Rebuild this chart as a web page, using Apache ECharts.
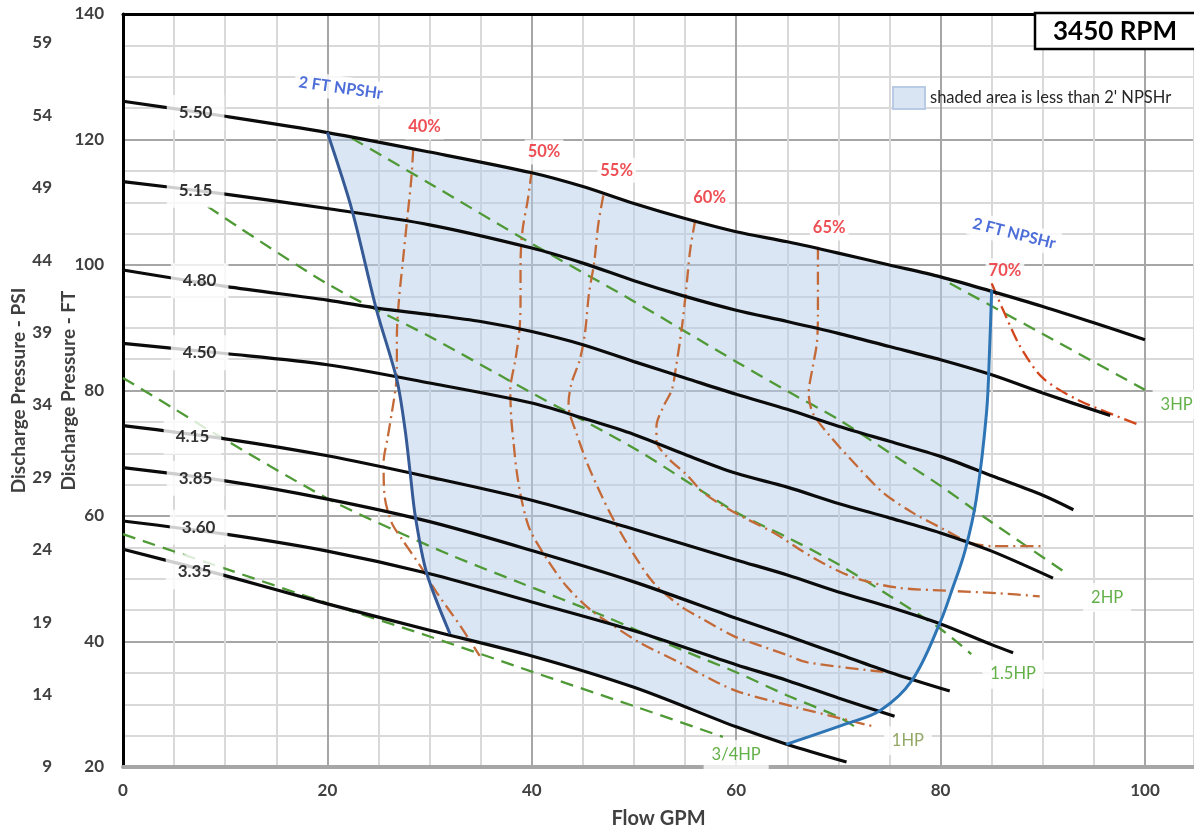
<!DOCTYPE html>
<html><head><meta charset="utf-8">
<script src="https://cdn.jsdelivr.net/npm/echarts@6/dist/echarts.min.js"></script>
<style>html,body{margin:0;padding:0;background:#fff}#c{width:1194px;height:833px}</style>
</head><body><div id="c"></div>
<script>
// ---- axes ----
const xTickLabels = [0, 20, 40, 60, 80, 100];
const ftTickLabels = [20, 40, 60, 80, 100, 120, 140];
const psiTickLabels = [9, 14, 19, 24, 29, 34, 39, 44, 49, 54, 59];

// ---- head curves (GPM, FT) by impeller diameter ----
const head550 = [[0,126.1],[10,123.7],[20,121.1],[30,118.0],[40,114.7],[45,112.5],[50,109.8],[55,107.4],[60,105.3],[65,103.7],[70,101.9],[75,100.0],[80,98.1],[85,95.8],[90,93.4],[95,90.8],[100,88.1]];
const head515 = [[0,113.3],[10,111.3],[20,109.0],[30,106.4],[40,102.7],[45,100.3],[50,97.5],[55,95.0],[60,92.8],[65,91.0],[70,89.1],[75,87.0],[80,84.9],[85,82.5],[90,79.6],[96.6,76.0]];
const head480 = [[0,99.2],[10,96.6],[20,94.4],[25,93.1],[30,92.1],[35,91.0],[40,89.4],[45,87.3],[50,84.6],[55,82.0],[60,79.4],[65,77.0],[70,74.3],[75,71.9],[80,69.5],[85,66.4],[90,63.3],[93,61.0]];
const head450 = [[0,87.5],[10,85.9],[20,84.1],[30,81.2],[40,78.0],[45,75.6],[50,73.0],[55,69.8],[60,66.8],[65,64.6],[70,62.0],[75,59.7],[80,57.3],[85,54.4],[91,50.1]];
const head415 = [[0,74.4],[10,72.3],[20,69.6],[30,66.2],[40,62.5],[50,57.9],[60,53.0],[65,50.6],[70,47.9],[75,45.5],[80,42.8],[85,39.5],[87.1,38.2]];
const head385 = [[0,67.7],[10,65.6],[20,62.7],[30,59.1],[40,54.5],[50,49.5],[60,43.7],[65,40.9],[70,38.0],[75,35.1],[80.9,32.1]];
const head360 = [[0,59.2],[10,57.1],[20,54.4],[30,50.8],[40,46.3],[50,41.7],[60,36.3],[65,33.8],[70,31.0],[75.5,28.1]];
const head335 = [[0,54.7],[10,50.5],[20,46.0],[30,41.8],[40,37.7],[50,32.7],[60,26.4],[65,23.6],[70.8,20.8]];
const headLabelNames = ['5.50','5.15','4.80','4.50','4.15','3.85','3.60','3.35'];
const headLabelGpm = [7.1, 7.1, 7.5, 7.5, 6.8, 7.1, 7.4, 7.0];
const headLabelFt = [124.3, 111.9, 97.5, 86.0, 72.6, 66.0, 58.2, 51.1];

// ---- horsepower lines ----
const hp34 = [[0,57.1],[10,51.6],[20,46.1],[30,40.8],[40,35.2],[50,29.7],[58.7,24.8]];
const hp1 = [[0,82.0],[4.9,77.2],[8.8,73.3],[20,62.8],[27.4,57.1],[32.3,53.6],[38.8,49.4],[47,44.1],[55.2,38.3],[60,35.1],[65,31.4],[70,28.0],[71.9,26.1]];
const hp15 = [[8.3,109.3],[20,97.0],[30,88.6],[40,79.6],[50,70.8],[60,60.6],[65,56.6],[70,52.3],[75,47.3],[80,42.0],[83,38.0]];
const hp2 = [[22.4,120.2],[30,113.0],[40,103.4],[50,94.2],[60,84.6],[65,79.9],[70,75.4],[75,70.1],[80,64.8],[85,59.0],[92.3,50.9]];
const hp3 = [[80.9,97.1],[90,89.0],[100,80.1]];
const hpLabelNames = ['3/4HP','1HP','1.5HP','2HP','3HP'];
const hpLabelGpm = [60.0, 76.8, 87.1, 96.3, 103.1];
const hpLabelFt = [22.0, 24.2, 34.8, 47.0, 77.8];

// ---- efficiency curves ----
const eff40 = [[28.4,118.4],[28.2,113.5],[27.8,107.2],[27.4,100.8],[27.0,94.4],[26.8,88.6],[26.8,83.3],[26.7,80.7],[26.3,76.4],[25.9,72.5],[25.5,68.5],[25.6,63.2],[26.3,58.9],[27.3,56.3],[29.1,52.0],[30.7,47.8],[33.0,42.5],[34.9,37.7]];
const eff50 = [[40.0,115.0],[39.6,110.3],[39.1,105.6],[38.9,100.3],[38.9,94.4],[38.8,89.7],[38.4,84.9],[37.9,80.1],[38.0,75.4],[38.2,72.0],[38.5,67.4],[39.0,62.6],[39.8,57.9],[41.5,53.1],[43.4,48.8],[45.7,45.1],[48.0,42.5],[50.6,39.8],[54.5,36.6],[58.1,33.5],[60.4,31.9],[65.9,29.5],[73.6,26.4]];
const eff55 = [[47.0,111.1],[46.5,106.4],[46.1,100.3],[45.6,95.5],[45.2,89.1],[44.7,84.9],[43.9,81.2],[43.6,78.0],[43.7,76.4],[44.3,73.5],[45.4,68.5],[46.7,63.7],[48.0,59.4],[49.9,54.1],[51.9,49.4],[54.5,45.7],[56.8,43.5],[59.7,40.9],[61.7,39.7],[64.9,37.9],[66.9,36.7],[74.7,35.1]];
const eff60 = [[56.0,107.2],[55.5,102.4],[55.1,96.0],[54.7,90.2],[54.1,83.6],[53.7,80.1],[52.9,77.5],[52.2,74.3],[52.2,72.0],[53.3,69.3],[55.2,66.5],[56.8,63.7],[60.0,60.4],[63.6,57.4],[67.5,53.4],[71.5,50.2],[75.7,48.6],[80.6,48.1],[85.5,47.7],[89.7,47.2]];
const eff65 = [[68.0,102.9],[68.0,98.2],[68.0,92.3],[67.9,87.6],[67.5,83.8],[67.1,79.6],[67.5,76.4],[69.2,72.7],[71.8,68.0],[74.4,63.7],[77.3,60.5],[80.3,57.9],[82.8,55.8],[85.1,55.2],[90.0,55.2]];
const eff70 = [[85.0,97.1],[86.1,92.9],[87.8,87.0],[90.0,82.0],[93.3,78.6],[96.5,76.4],[99.6,74.4]];
const effLabelNames = ['40%','50%','55%','60%','65%','70%'];
const effLabelGpm = [29.5, 41.2, 48.3, 57.4, 69.1, 86.3];
const effLabelFt = [122.0, 118.0, 115.1, 110.8, 105.9, 99.1];

// ---- 2 ft NPSHr boundary ----
const npshLeft = [[20,121.1],[22.4,108.8],[24.8,92.9],[26.8,81.7],[27.6,73.8],[28.1,66.9],[28.6,60.0],[29.7,51.0],[32.0,41.2]];
const npshRight = [[64.9,23.6],[70.8,26.9],[74.1,29.0],[77.2,33.8],[79.9,42.8],[81.2,48.6],[82.4,54.5],[83.5,62.7],[84.5,76.5],[84.8,86.6],[85.0,96.0]];
const npshLabelNames = ['2 FT NPSHr','2 FT NPSHr'];
const npshLabelGpm = [21.3, 87.2];
const npshLabelFt = [128.2, 105.0];

const legendName = "shaded area is less than 2' NPSHr";
const FONT = 'Lato, "Open Sans", sans-serif';

// shaded region: left NPSHr edge, 3.35 curve, right NPSHr edge, 5.50 curve back
const shadePts = [].concat(
  npshLeft,
  head335.filter(p => p[0] > 32.0 && p[0] < 64.9),
  npshRight,
  head550.filter(p => p[0] > 20 && p[0] < 85).reverse()
);

const chart = echarts.init(document.getElementById('c'), null, {renderer: 'canvas'});

function lineSeries(data, color, width, type, z, smooth) {
  return {type: 'line', data: data, symbol: 'none', smooth: smooth, z: z, silent: true,
    lineStyle: {color: color, width: width, type: type}, xAxisIndex: 0, yAxisIndex: 0};
}
function labelSeries(names, xs, ys, labelCfg, itemFn) {
  return {type: 'scatter', z: 20, silent: true, symbolSize: 0, xAxisIndex: 0, yAxisIndex: 0,
    itemStyle: {color: 'rgba(0,0,0,0)'},
    data: names.map((n, i) => Object.assign({name: n, value: [xs[i], ys[i]]}, itemFn ? itemFn(i) : {})),
    label: Object.assign({show: true, position: 'inside', formatter: '{b}', fontFamily: FONT}, labelCfg)};
}

const series = [];
series.push({
  type: 'custom', name: legendName, coordinateSystem: 'cartesian2d', xAxisIndex: 0, yAxisIndex: 0,
  z: 1, silent: true, data: [[0, 0]],
  itemStyle: {color: '#dae5f3', borderColor: '#b9cbe4', borderWidth: 1},
  renderItem: function (params, api) {
    return {type: 'polygon', shape: {points: shadePts.map(p => api.coord(p))},
      style: {fill: 'rgba(181,205,231,0.5)'}};
  }
});
[head550, head515, head480, head450, head415, head385, head360, head335].forEach(d =>
  series.push(lineSeries(d, '#0b0b0b', 3.2, 'solid', 4, 0.3)));
[hp34, hp1, hp15, hp2, hp3].forEach(d =>
  series.push(lineSeries(d, '#4f9a36', 2.3, [13, 8], 3, 0.3)));
[eff40, eff50, eff55, eff60, eff65].forEach(d =>
  series.push(lineSeries(d, '#c46a38', 2.3, [13, 5, 2, 5], 3, 0.3)));
series.push(lineSeries(eff70, '#d2461c', 2.3, [13, 5, 2, 5], 3, 0.3));
series.push(lineSeries(npshLeft, '#365a96', 3, 'solid', 6, 0.3));
series.push(lineSeries(npshRight, '#2e75b6', 3, 'solid', 6, 0.35));

series.push(labelSeries(headLabelNames, headLabelGpm, headLabelFt,
  {color: '#000', fontSize: 17, fontWeight: 'bold', backgroundColor: '#fff', padding: [9, 12]}));
series.push(labelSeries(effLabelNames, effLabelGpm, effLabelFt,
  {color: '#e8232a', fontSize: 16.5, fontWeight: 'bold', backgroundColor: '#fff', padding: [4, 3]}));
series.push(labelSeries(hpLabelNames, hpLabelGpm, hpLabelFt,
  {color: '#3c9c1c', fontSize: 16.5, backgroundColor: '#fff', padding: [6, 8]},
  i => i === 1 ? {label: {color: '#77923e'}} : {}));
series.push(labelSeries(npshLabelNames, npshLabelGpm, npshLabelFt,
  {color: '#2148cf', fontSize: 16, fontWeight: 'bold', backgroundColor: '#fff', padding: [4, 4]},
  i => ({label: {rotate: i === 0 ? -8 : -14}})));

const tickText = {fontFamily: FONT, fontWeight: 'bold', fontSize: 17, color: '#404040'};
const nameText = {fontFamily: FONT, fontWeight: 'bold', fontSize: 19, color: '#404040'};

chart.setOption({
  animation: false,
  backgroundColor: '#fff',
  grid: {left: 123, right: 0, top: 14, bottom: 66, containLabel: false, outerBoundsMode: 'none'},
  legend: {
    show: true, left: 887, top: 81, icon: 'rect', itemWidth: 32, itemHeight: 22, itemGap: 6,
    data: [{name: legendName, icon: 'rect'}],
    textStyle: {fontFamily: FONT, fontSize: 16.5, color: '#262626'}, selectedMode: false
  },
  xAxis: [{
    type: 'value', min: 0, max: 104.8, interval: 5, position: 'bottom',
    axisLine: {show: true, onZero: false, lineStyle: {color: '#a6a6a6', width: 4}},
    axisTick: {show: false},
    axisLabel: Object.assign({customValues: xTickLabels, margin: 15}, tickText),
    splitLine: {show: true, lineStyle: {color: ['#a6a6a6', '#d9d9d9', '#d9d9d9', '#d9d9d9'], width: 2}},
    name: 'Flow GPM', nameLocation: 'middle', nameGap: 42, nameMoveOverlap: false,
    nameTextStyle: Object.assign({}, nameText, {fontSize: 20})
  }, {
    type: 'value', min: 0, max: 104.8, position: 'top',
    axisLine: {show: true, onZero: false, lineStyle: {color: '#000', width: 3}},
    axisTick: {show: false}, axisLabel: {show: false}, splitLine: {show: false}
  }],
  yAxis: [{
    type: 'value', min: 20, max: 140, interval: 5, position: 'left',
    axisLine: {show: true, onZero: false, lineStyle: {color: '#000', width: 3}},
    axisTick: {show: false},
    axisLabel: Object.assign({customValues: ftTickLabels, margin: 19}, tickText),
    splitLine: {show: true, lineStyle: {color: ['#a6a6a6', '#d9d9d9', '#d9d9d9', '#d9d9d9'], width: 2}},
    name: 'Discharge Pressure - FT', nameLocation: 'middle', nameGap: 45, nameMoveOverlap: false,
    nameTextStyle: nameText
  }, {
    type: 'value', min: 9, max: 61, position: 'left', offset: 55,
    axisLine: {show: false}, axisTick: {show: false}, splitLine: {show: false},
    axisLabel: Object.assign({customValues: psiTickLabels, margin: 16}, tickText),
    name: 'Discharge Pressure - PSI', nameLocation: 'middle', nameGap: 40, nameMoveOverlap: false,
    nameTextStyle: nameText
  }],
  graphic: [
    {type: 'rect', z: 100, zlevel: 1, shape: {x: 1035, y: 13, width: 170, height: 36},
     style: {fill: '#fff', stroke: '#000', lineWidth: 2.5}},
    {type: 'text', z: 101, zlevel: 1, x: 1115, y: 32,
     style: {text: '3450 RPM', fontFamily: FONT, fontWeight: 'bold', fontSize: 26, fill: '#000', align: 'center', verticalAlign: 'middle'}}
  ],
  series: series
});
</script></body></html>
